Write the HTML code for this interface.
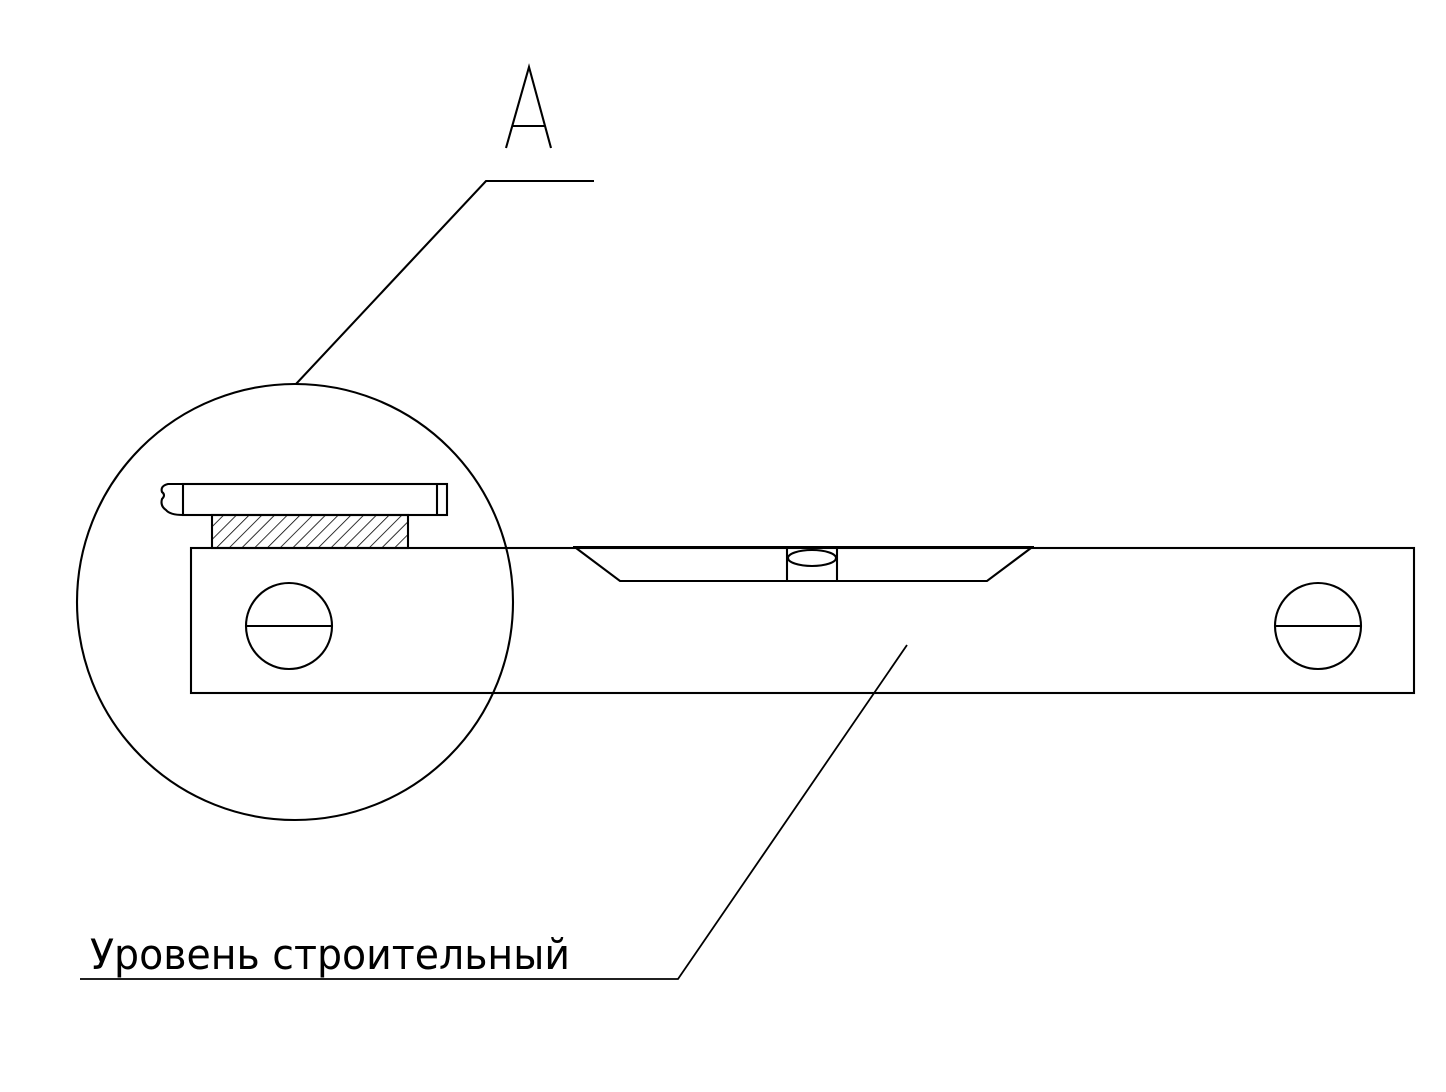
<!DOCTYPE html>
<html><head><meta charset="utf-8"><style>
html,body{margin:0;padding:0;background:#fff;}
svg{display:block;}
</style></head><body>
<svg width="1446" height="1092" viewBox="0 0 1446 1092" xmlns="http://www.w3.org/2000/svg">
<defs>
<pattern id="h" patternUnits="userSpaceOnUse" width="9" height="9" patternTransform="rotate(45)">
<line x1="0" y1="0" x2="0" y2="9" stroke="#000" stroke-width="1.6"/>
</pattern>
</defs>
<g fill="none" stroke="#000" stroke-width="2.1">
<text x="528" y="148" font-family="Liberation Sans, sans-serif" font-size="0" fill="#000" stroke="none">A</text>
<polyline points="506,148 529,67 551,148"/>
<line x1="512" y1="126" x2="545" y2="126"/>
<polyline points="296,384 486,181 594,181"/>
<circle cx="295" cy="602" r="218"/>
<rect x="183" y="484" width="264" height="31" fill="#fff"/>
<line x1="437" y1="484" x2="437" y2="515"/>
<path d="M183,484 L168,484 Q160,486 162,492 Q166,495 162,499 Q160,506 166,510 Q170,515 183,515"/>
<rect x="212" y="515" width="196" height="33" fill="url(#h)"/>
<rect x="191" y="548" width="1223" height="145"/>
<line x1="573" y1="547.5" x2="1034" y2="547.5" stroke-width="3"/>
<polyline points="576,548 620,581 987,581 1031,548"/>
<line x1="787" y1="548" x2="787" y2="581"/>
<line x1="837" y1="548" x2="837" y2="581"/>
<ellipse cx="812" cy="558" rx="24" ry="8"/>
<circle cx="289" cy="626" r="43"/>
<line x1="246" y1="626" x2="332" y2="626"/>
<circle cx="1318" cy="626" r="43"/>
<line x1="1275" y1="626" x2="1361" y2="626"/>
<polyline points="907,645 678,979 80,979" stroke-width="1.8"/>
</g>
<text x="90" y="969" font-family="'DejaVu Sans', 'Liberation Sans', sans-serif" font-size="42" textLength="480" lengthAdjust="spacingAndGlyphs" fill="#000">Уровень строительный</text>
</svg>
</body></html>
